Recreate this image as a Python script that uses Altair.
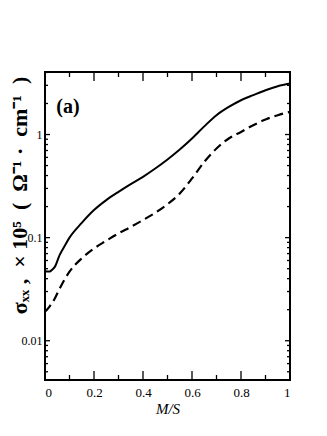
import altair as alt
import pandas as pd

# --- data ---
solid_x = [0, 0.01, 0.02, 0.03, 0.04, 0.06, 0.08, 0.1, 0.15, 0.2, 0.25, 0.3, 0.35,
           0.4, 0.45, 0.5, 0.55, 0.6, 0.65, 0.7, 0.75, 0.8, 0.85, 0.9, 0.95, 1.0]
solid_y = [0.048, 0.0468, 0.047, 0.049, 0.052, 0.068, 0.083, 0.100, 0.139, 0.185, 0.231,
           0.278, 0.330, 0.389, 0.468, 0.573, 0.716, 0.915, 1.20, 1.54, 1.85, 2.15,
           2.41, 2.69, 2.94, 3.12]
dashed_x = [0, 0.02, 0.04, 0.06, 0.08, 0.1, 0.15, 0.2, 0.25, 0.3, 0.35, 0.4, 0.45,
            0.5, 0.55, 0.6, 0.65, 0.7, 0.75, 0.8, 0.85, 0.9, 0.95, 1.0]
dashed_y = [0.0191, 0.0217, 0.0257, 0.0321, 0.0393, 0.0467, 0.0629, 0.0785, 0.0932,
            0.110, 0.127, 0.148, 0.174, 0.211, 0.268, 0.375, 0.543, 0.732, 0.915,
            1.06, 1.23, 1.40, 1.54, 1.66]

x_labels = [0, 0.2, 0.4, 0.6, 0.8, 1]
x_major = [0.2, 0.4, 0.6, 0.8]
x_minor = [0.1, 0.3, 0.5, 0.7, 0.9]
y_labels = [0.01, 0.1, 1]
y_major = [0.01, 0.1, 1]
y_minor = [0.005, 0.006, 0.007, 0.008, 0.009,
           0.02, 0.03, 0.04, 0.05, 0.06, 0.07, 0.08, 0.09,
           0.2, 0.3, 0.4, 0.5, 0.6, 0.7, 0.8, 0.9,
           2, 3, 4]

W, H = 245, 308
SERIF = "Liberation Serif"
SP = "\u00a0"
y_title = f"σₓₓ{SP},{SP}{SP}×{SP}10⁵{SP}{SP}({SP}{SP}Ω⁻¹{SP}·{SP}{SP}cm⁻¹{SP}{SP})"

xs = alt.Scale(domain=[0, 1], nice=False, zero=False)
ys = alt.Scale(type="log", domain=[0.00416, 4.04], nice=False)

df_s = pd.DataFrame({"x": solid_x, "y": solid_y})
df_d = pd.DataFrame({"x": dashed_x, "y": dashed_y})

xaxis = alt.Axis(values=x_labels, ticks=False, domain=False, grid=False,
                 labelFont=SERIF, labelFontSize=13, labelPadding=6,
                 labelExpr="datum.value == 0 ? '0' : datum.value == 1 ? '1' : format(datum.value, '.1f')",
                 title="M/S", titleFont=SERIF, titleFontSize=15, titleFontStyle="italic",
                 titleFontWeight="normal", titlePadding=2)
yaxis = alt.Axis(values=y_labels, ticks=False, domain=False, grid=False,
                 labelFont=SERIF, labelFontSize=12, labelPadding=3,
                 labelExpr="datum.value >= 1 ? '1' : datum.value >= 0.1 ? '0.1' : '0.01'",
                 title=y_title, titleFont=SERIF, titleFontSize=22,
                 titleFontWeight="bold", titleAngle=-90, titleX=-26, titleY=123,
                 titleBaseline="middle", titleAlign="center")

base_x = alt.X("x:Q", scale=xs, axis=xaxis)
base_y = alt.Y("y:Q", scale=ys, axis=yaxis)

solid = alt.Chart(df_s).mark_line(color="black", strokeWidth=2, interpolate="monotone", clip=True).encode(
    x=base_x, y=base_y,
)
dashed = alt.Chart(df_d).mark_line(color="black", strokeWidth=2.2, strokeDash=[9, 5],
                                   interpolate="monotone", clip=True).encode(
    x=base_x, y=base_y,
)

def xticks(vals, length, top):
    d = pd.DataFrame({"x": vals})
    if top:
        yy, yy2 = alt.value(0), alt.value(length)
    else:
        yy, yy2 = alt.value(H), alt.value(H - length)
    return alt.Chart(d).mark_rule(color="black", strokeWidth=1.3).encode(
        x=base_x, y=yy, y2=yy2)

def yticks(vals, length, right):
    d = pd.DataFrame({"y": vals})
    if right:
        xx, xx2 = alt.value(W), alt.value(W - length)
    else:
        xx, xx2 = alt.value(0), alt.value(length)
    return alt.Chart(d).mark_rule(color="black", strokeWidth=1.3).encode(
        y=base_y, x=xx, x2=xx2)

label = alt.Chart(pd.DataFrame({"t": ["(a)"]})).mark_text(
    font=SERIF, fontSize=20, fontWeight="bold", align="center", baseline="middle"
).encode(text="t:N", x=alt.value(23), y=alt.value(35))

chart = alt.layer(
    solid, dashed,
    xticks(x_major, 9, False), xticks(x_minor, 5, False),
    xticks(x_major, 9, True), xticks(x_minor, 5, True),
    yticks(y_major, 5, False), yticks(y_minor, 3, False),
    yticks(y_major, 5, True), yticks(y_minor, 3, True),
    label,
).properties(
    width=W, height=H,
    autosize=alt.AutoSizeParams(type="none"),
    padding={"left": 37, "top": 64, "right": 20, "bottom": 40},
).configure_view(stroke="black", strokeWidth=2)

chart.save("out.html", embed_options={"renderer": "svg", "actions": False})
